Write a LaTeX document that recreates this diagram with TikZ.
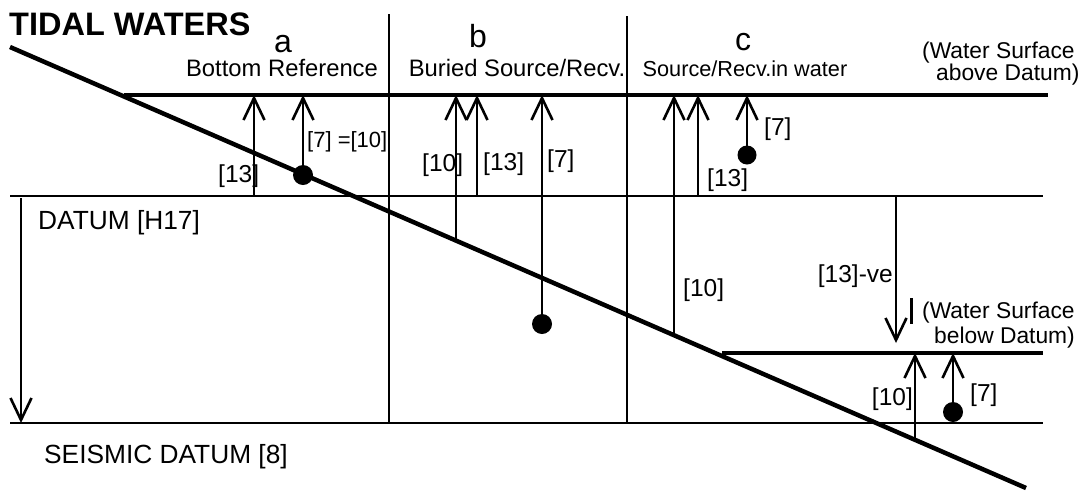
\documentclass[tikz,border=0pt]{standalone}
\usepackage{fontspec}
\setmainfont{Liberation Sans}
\usetikzlibrary{arrows.meta,calc}
\begin{document}
\begin{tikzpicture}[x=1pt,y=-1pt,
  thinline/.style={line width=2pt},
  thickline/.style={line width=4.5pt},
  divider/.style={line width=2.5pt},
  arr/.style={line width=2pt,-{Straight Barb[length=22pt,width=21pt,line width=2.6pt]}},
  blob/.style={circle,fill=black,inner sep=0pt,minimum size=20pt},
  lbl/.style={font=\fontsize{24.5}{28}\selectfont,inner sep=0pt,anchor=base west},
  lble/.style={font=\fontsize{24.5}{28}\selectfont,inner sep=0pt,anchor=base east},
  head/.style={font=\fontsize{32}{36}\selectfont,inner sep=0pt,anchor=base},
  sub/.style={font=\fontsize{23.8}{28}\selectfont,inner sep=0pt,anchor=base},
  note/.style={font=\fontsize{22.8}{26}\selectfont,inner sep=0pt,anchor=base west},
  datum/.style={font=\fontsize{26.3}{30}\selectfont,inner sep=0pt,anchor=base west}
]
\useasboundingbox (0,0) rectangle (1092,491);

% title (clipped like the reference)
\begin{scope}
  \clip (0,0) rectangle (248,60);
  \node[inner sep=0pt,anchor=base west,font=\bfseries\fontsize{32.5}{36}\selectfont] (title) at (9,35) {TIDAL WATERS};
\end{scope}

% column headings
\node[head] (ha) at (283,52) {a};
\node[head] (hb) at (478,47) {b};
\node[head] (hc) at (743,50) {c};
\node[sub] (sa) at (282,76) {Bottom Reference};
\node[sub] (sb) at (517,76) {Buried Source/Recv.};
\node[sub,font=\fontsize{21.7}{26}\selectfont] (sc) at (745,76) {Source/Recv.in water};

% horizontal reference lines
\coordinate (ws1) at (124,95);  \coordinate (ws2) at (1048,95);
\coordinate (d1) at (10,196);   \coordinate (d2) at (1043,196);
\coordinate (sd1) at (10,423);  \coordinate (sd2) at (1043,423);
\coordinate (wb1) at (722,353); \coordinate (wb2) at (1043,353);
\draw[thickline] (ws1) -- (ws2);
\draw[thinline] (d1) -- (d2);
\draw[thinline] (sd1) -- (sd2);
\draw[thickline] (wb1) -- (wb2);

% column dividers
\coordinate (v1t) at (389,14); \coordinate (v1b) at (389,423);
\coordinate (v2t) at (627,16); \coordinate (v2b) at (627,423);
\draw[divider] (v1t) -- (v1b);
\draw[divider] (v2t) -- (v2b);

% sloping sea bottom
\coordinate (sb1) at (10,47); \coordinate (sb2) at (1026,488);
\draw[thickline] (sb1) -- (sb2);

% datum to seismic datum arrow
\coordinate (la1) at (21,198); \coordinate (la2) at (21,423);
\draw[arr] (la1) -- (la2);

% labels of datums
\node[datum] (dl) at (38,229) {DATUM [H17]};
\node[datum] (sdl) at (44,463) {SEISMIC DATUM [8]};

% water surface notes
\node[note] (n1) at (922,58) {(Water Surface};
\node[note] (n2) at (936,80) {above Datum)};
\node[note] (n3) at (922,318) {(Water Surface};
\node[note] (n4) at (934,343) {below Datum)};

% ---- column a
\coordinate (a13s) at (254,196); \coordinate (a13e) at (254,95);
\draw[arr] (a13s) -- (a13e);
\node[lbl] (la13) at (218,182) {[13]};
\node[blob] (da) at (303,175) {};
\coordinate (a7e) at (303,95);
\draw[arr] (da.center) -- (a7e);
\node[lbl,font=\fontsize{22}{26}\selectfont] (la7) at (307,147) {[7] =[10]};

% ---- column b
\coordinate (b10s) at (456,240.6); \coordinate (b10e) at (456,95);
\draw[arr] (b10s) -- (b10e);
\node[lbl] (lb10) at (422,171) {[10]};
\coordinate (b13s) at (477,196); \coordinate (b13e) at (477,95);
\draw[arr] (b13s) -- (b13e);
\node[lbl] (lb13) at (483,170) {[13]};
\node[blob] (db) at (542,324) {};
\coordinate (b7e) at (542,95);
\draw[arr] (db.center) -- (b7e);
\node[lbl] (lb7) at (547,167) {[7]};

% ---- column c
\coordinate (c10s) at (674,335.2); \coordinate (c10e) at (674,95);
\draw[arr] (c10s) -- (c10e);
\node[lbl] (lc10) at (683,296) {[10]};
\coordinate (c13s) at (698,196); \coordinate (c13e) at (698,95);
\draw[arr] (c13s) -- (c13e);
\node[lbl] (lc13) at (707,186) {[13]};
\node[blob,minimum size=19pt] (dc) at (747,155) {};
\coordinate (c7e) at (747,95);
\draw[arr] (dc.center) -- (c7e);
\node[lbl] (lc7) at (764,135) {[7]};

% negative [13]
\coordinate (n13s) at (896,196); \coordinate (n13e) at (896,343);
\draw[arr] (n13s) -- (n13e);
\node[lble] (ln13) at (893,282) {[13]-ve};
\coordinate (tk1) at (911,298); \coordinate (tk2) at (911,324);
\draw[line width=3pt] (tk1) -- (tk2);

% below datum water surface arrows
\coordinate (e10s) at (915,439.9); \coordinate (e10e) at (915,353);
\draw[arr] (e10s) -- (e10e);
\node[lble] (le10) at (913,405) {[10]};
\node[blob] (de) at (953,412) {};
\coordinate (e7e) at (953,353);
\draw[arr] (de.center) -- (e7e);
\node[lbl] (le7) at (970,401) {[7]};
\end{tikzpicture}
\end{document}
